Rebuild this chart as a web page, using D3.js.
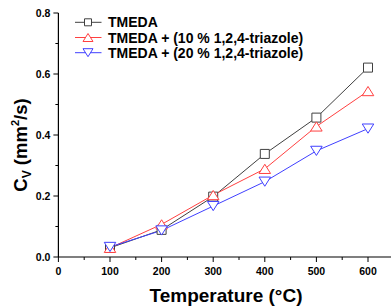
<!DOCTYPE html>
<html><head><meta charset="utf-8">
<script src="https://cdn.jsdelivr.net/npm/d3@7"></script>
<style>body{margin:0;background:#fff;}svg{display:block;font-family:"Liberation Sans",Arial,sans-serif;}</style>
</head><body>
<svg id="c" width="391" height="307"></svg>
<script>
const temps = [100, 200, 300, 400, 500, 600];
const seriesNames = ["TMEDA", "TMEDA + (10 % 1,2,4-triazole)", "TMEDA + (20 % 1,2,4-triazole)"];
const tmeda = [0.030, 0.089, 0.198, 0.338, 0.457, 0.621];
const tri10 = [0.030, 0.107, 0.203, 0.289, 0.428, 0.544];
const tri20 = [0.033, 0.087, 0.167, 0.247, 0.348, 0.421];
const xTicks = [0, 100, 200, 300, 400, 500, 600];
const yTicks = [0.0, 0.2, 0.4, 0.6, 0.8];
const colors = ["#404040", "#ff4040", "#4040ff"];
const markers = ["square", "up", "down"];

const svg = d3.select("#c");
const x = d3.scaleLinear().domain([0, 650]).range([58.4, 393.8]);
const y = d3.scaleLinear().domain([0, 0.8]).range([257, 13]);

// axes
const gx = svg.append("g").attr("transform", "translate(0,257)");
gx.append("line").attr("x1", x(0)).attr("x2", 391).attr("stroke", "#000").attr("stroke-width", 1.2);
const xMinor = d3.range(50, 650, 100);
gx.selectAll(".xm").data(xMinor).join("line").attr("x1", d => x(d)).attr("x2", d => x(d)).attr("y1", 0).attr("y2", 3).attr("stroke", "#000");
gx.selectAll(".xM").data(xTicks).join("line").attr("x1", d => x(d)).attr("x2", d => x(d)).attr("y1", 0).attr("y2", 5).attr("stroke", "#000");
gx.selectAll(".xl").data(xTicks).join("text").attr("x", d => x(d)).attr("y", 18).attr("text-anchor", "middle")
  .attr("font-size", 10.5).attr("font-weight", "bold").text(d => d);

const gy = svg.append("g").attr("transform", "translate(58.4,0)");
gy.append("line").attr("y1", y(0)).attr("y2", y(0.8)).attr("stroke", "#000").attr("stroke-width", 1.2);
const yMinor = [0.1, 0.3, 0.5, 0.7];
gy.selectAll(".ym").data(yMinor).join("line").attr("y1", d => y(d)).attr("y2", d => y(d)).attr("x1", 0).attr("x2", -3).attr("stroke", "#000");
gy.selectAll(".yM").data(yTicks).join("line").attr("y1", d => y(d)).attr("y2", d => y(d)).attr("x1", 0).attr("x2", -5).attr("stroke", "#000");
gy.selectAll(".yl").data(yTicks).join("text").attr("x", -8).attr("y", d => y(d) + 4).attr("text-anchor", "end")
  .attr("font-size", 10.5).attr("font-weight", "bold").text(d => d.toFixed(1));

// axis titles
svg.append("text").attr("x", 226).attr("y", 302).attr("text-anchor", "middle").attr("font-size", 19).attr("font-weight", "bold").text("Temperature (°C)");
const yt = svg.append("text").attr("transform", "translate(27,145) rotate(-90)").attr("text-anchor", "middle").attr("font-size", 18.5).attr("font-weight", "bold");
yt.append("tspan").text("C");
yt.append("tspan").attr("font-size", 12).attr("dy", 4).text("V");
yt.append("tspan").attr("dy", -4).text(" (mm");
yt.append("tspan").attr("font-size", 11).attr("dy", -8).text("2");
yt.append("tspan").attr("dy", 8).text("/s)");

function markerPath(type, s) {
  if (type === "square") return `M${-s},${-s}h${2*s}v${2*s}h${-2*s}Z`;
  const w = s * 1.25;
  if (type === "up") return `M0,${-s}L${w},${s}L${-w},${s}Z`;
  return `M0,${s}L${w},${-s}L${-w},${-s}Z`;
}

const allData = [tmeda, tri10, tri20];
const line = d3.line().x((d, i) => x(temps[i])).y(d => y(d));
const plot = svg.append("g");
allData.forEach((vals, k) => {
  plot.append("path").datum(vals).attr("d", line).attr("fill", "none").attr("stroke", colors[k]).attr("stroke-width", 1);
});
allData.forEach((vals, k) => {
  plot.selectAll(".m" + k).data(vals).join("path")
    .attr("transform", (d, i) => `translate(${x(temps[i])},${y(d)})`)
    .attr("d", markerPath(markers[k], k === 0 ? 4.5 : 4.6)).attr("fill", "#fff").attr("stroke", colors[k]).attr("stroke-width", 1);
});

// legend
const lg = svg.append("g");
seriesNames.forEach((name, k) => {
  const yy = 22.3 + k * 15.2;
  lg.append("line").attr("x1", 75).attr("x2", 101.5).attr("y1", yy).attr("y2", yy).attr("stroke", colors[k]);
  lg.append("path").attr("transform", `translate(88,${yy})`).attr("d", markerPath(markers[k], k === 0 ? 3.5 : 4)).attr("fill", "#fff").attr("stroke", colors[k]);
  lg.append("text").attr("x", 108).attr("y", yy + 5).attr("font-size", 14).attr("font-weight", "bold").text(name);
});
</script>
</body></html>
